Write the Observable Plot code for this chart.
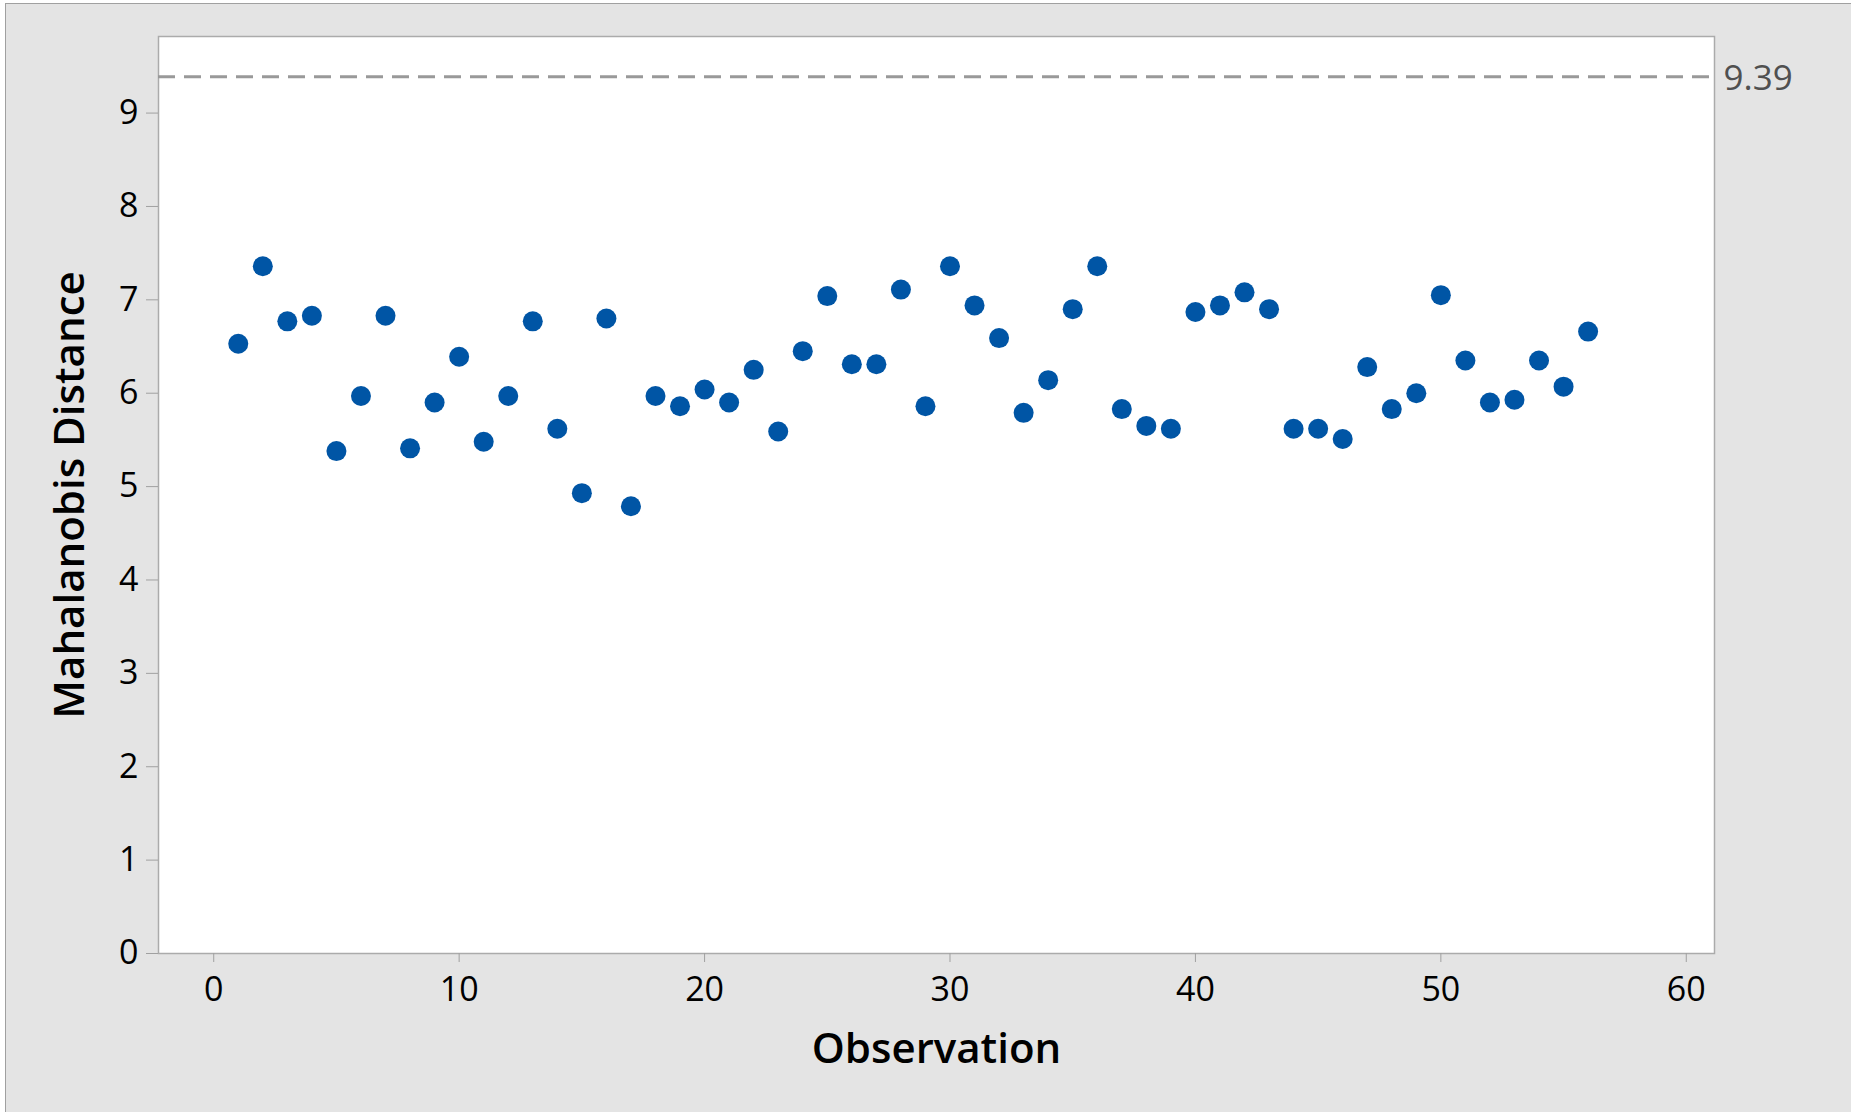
<!DOCTYPE html>
<html>
<head>
<meta charset="utf-8">
<script src="https://cdn.jsdelivr.net/npm/d3@7"></script>
<script src="https://cdn.jsdelivr.net/npm/@observablehq/plot@0.6"></script>
<style>
  html, body { margin: 0; padding: 0; background: #ffffff; }
  #panel {
    position: absolute; left: 5px; top: 3px; right: 0; bottom: 0;
    width: 1846px; height: 1109px;
    background: #e4e4e4;
    border-left: 1px solid #a0a0a0; border-top: 1px solid #a0a0a0;
    box-sizing: border-box;
  }
  #chart { position: absolute; left: 0; top: 0; }
  #chart svg { background: transparent; }
</style>
</head>
<body>
<div id="panel"></div>
<div id="chart"></div>
<script>
// Observation numbers
const observations = [
  1, 2, 3, 4, 5, 6, 7, 8, 9, 10,
  11, 12, 13, 14, 15, 16, 17, 18, 19, 20,
  21, 22, 23, 24, 25, 26, 27, 28, 29, 30,
  31, 32, 33, 34, 35, 36, 37, 38, 39, 40,
  41, 42, 43, 44, 45, 46, 47, 48, 49, 50,
  51, 52, 53, 54, 55, 56
];
// Mahalanobis distance per observation
const distances = [
  6.53, 7.36, 6.77, 6.83, 5.38, 5.97, 6.83, 5.41, 5.90, 6.39,
  5.48, 5.97, 6.77, 5.62, 4.93, 6.80, 4.79, 5.97, 5.86, 6.04,
  5.90, 6.25, 5.59, 6.45, 7.04, 6.31, 6.31, 7.11, 5.86, 7.36,
  6.94, 6.59, 5.79, 6.14, 6.90, 7.36, 5.83, 5.65, 5.62, 6.87,
  6.94, 7.08, 6.90, 5.62, 5.62, 5.51, 6.28, 5.83, 6.00, 7.05,
  6.35, 5.90, 5.93, 6.35, 6.07, 6.66
];
const referenceLine = [9.39];
const xTicks = [0, 10, 20, 30, 40, 50, 60];
const yTicks = [0, 1, 2, 3, 4, 5, 6, 7, 8, 9];

const data = observations.map((o, i) => ({obs: o, dist: distances[i]}));

const chart = Plot.plot({
  width: 1851,
  height: 1112,
  marginLeft: 158,
  marginRight: 137,
  marginTop: 36,
  marginBottom: 159,
  style: {fontFamily: "'Open Sans', 'Noto Sans', sans-serif", background: "transparent", color: "#000"},
  x: {domain: [-2.25, 61.15]},
  y: {domain: [0, 9.82]},
  marks: [
    Plot.frame({fill: "white", stroke: "#ababab", strokeWidth: 1.5}),
    Plot.axisY({
      ticks: yTicks, tickSize: 12, tickPadding: 8, tickFormat: d => String(d),
      stroke: "#a0a0a0", fontSize: 34, fontWeight: 500, fill: "#000", label: null
    }),
    Plot.axisX({
      ticks: xTicks, tickSize: 9, tickPadding: 14, tickFormat: d => String(d),
      stroke: "#a0a0a0", fontSize: 34, fontWeight: 500, fill: "#000", label: null
    }),
    Plot.ruleY(referenceLine, {stroke: "#999999", strokeWidth: 3, strokeDasharray: "17,9"}),
    Plot.text(referenceLine, {
      y: d => d, text: d => d.toFixed(2), frameAnchor: "right", dx: 9,
      textAnchor: "start", lineAnchor: "middle", dy: 2, fill: "#505050", fontSize: 35
    }),
    Plot.dot(data, {x: "obs", y: "dist", r: 10, fill: "#0055a5", stroke: null}),
    Plot.text(["Observation"], {
      text: d => d, frameAnchor: "bottom", textAnchor: "middle", lineAnchor: "middle",
      dy: 96, fontSize: 42, fontWeight: 600, fill: "#000"
    }),
    Plot.text(["Mahalanobis Distance"], {
      text: d => d, frameAnchor: "left", textAnchor: "middle", lineAnchor: "middle",
      dx: -88, rotate: -90, fontSize: 42, fontWeight: 600, fill: "#000"
    })
  ]
});
document.getElementById("chart").appendChild(chart);
</script>
</body>
</html>
